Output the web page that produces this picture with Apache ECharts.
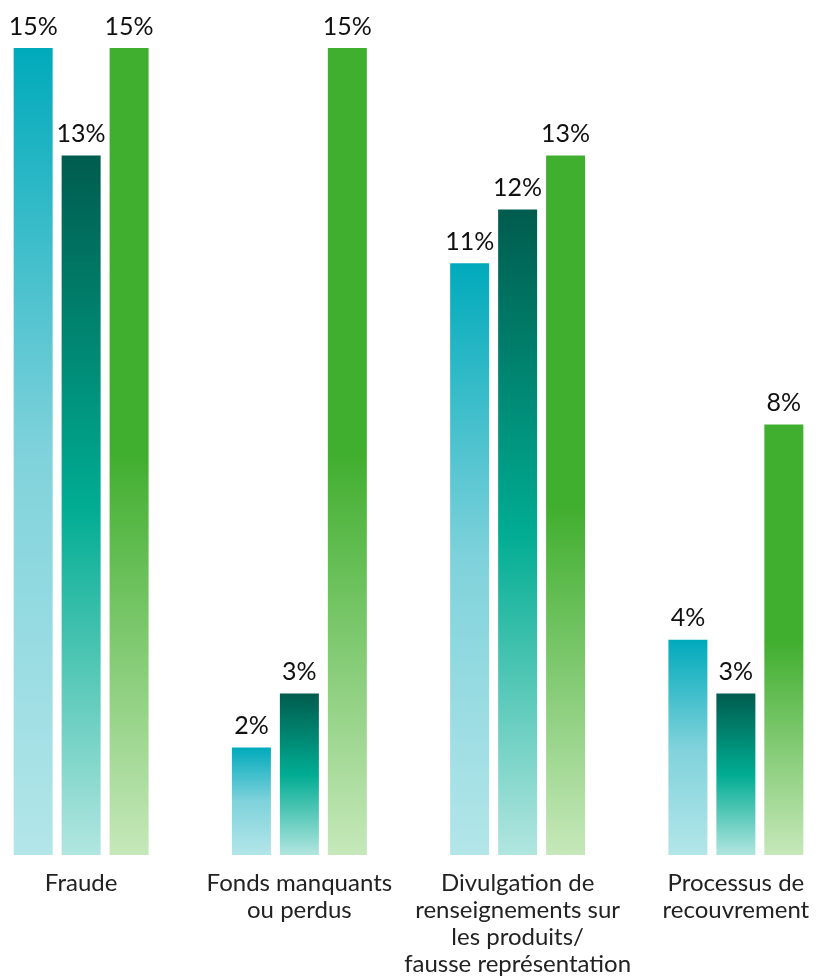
<!DOCTYPE html>
<html>
<head>
<meta charset="utf-8">
<script src="https://cdn.jsdelivr.net/npm/echarts@6/dist/echarts.min.js"></script>
<style>
html,body{margin:0;padding:0;background:#fff;overflow:hidden;width:820px;height:978px;}
#chart{width:873px;height:978px;margin-left:-28px;}
</style>
</head>
<body>
<div id="chart"></div>
<script>
const categories = [
  "Fraude",
  "Fonds manquants\nou perdus",
  "Divulgation de\nrenseignements sur\nles produits/\nfausse représentation",
  "Processus de\nrecouvrement"
];
const series1Values = [15, 2, 11, 4];
const series2Values = [13, 3, 12, 3];
const series3Values = [15, 15, 13, 8];

function grad(stops) {
  return new echarts.graphic.LinearGradient(0, 0, 0, 1, stops.map(s => ({offset: s[0], color: s[1]})));
}
const g1 = grad([[0, '#00AABB'], [0.5, '#7FD2DB'], [1, '#B3E6E9']]);
const g2 = grad([[0, '#005C4E'], [0.5, '#00AC92'], [1, '#B2E6E0']]);
const g3 = grad([[0, '#40AE2E'], [0.5, '#40AE2E'], [1, '#C6E8BA']]);

const labelStyle = {
  show: true,
  position: 'top',
  distance: 9,
  formatter: '{c}%',
  color: '#111',
  fontFamily: 'Lato',
  fontSize: 25
};

function mk(values, color) {
  return {
    type: 'bar',
    data: values,
    barWidth: 39,
    barGap: '23%',
    itemStyle: {color: color},
    label: labelStyle
  };
}

const chart = echarts.init(document.getElementById('chart'), null, {renderer: 'canvas'});
chart.setOption({
  animation: false,
  grid: {left: 0, right: 0, top: 48, bottom: 123, containLabel: false},
  xAxis: {
    type: 'category',
    data: categories,
    axisLine: {show: false},
    axisTick: {show: false},
    axisLabel: {
      interval: 0,
      margin: 15,
      color: '#222',
      fontFamily: 'Lato',
      fontSize: 24,
      lineHeight: 27
    }
  },
  yAxis: {
    type: 'value',
    min: 0,
    max: 15,
    show: false,
    splitLine: {show: false}
  },
  series: [mk(series1Values, g1), mk(series2Values, g2), mk(series3Values, g3)]
});
</script>
</body>
</html>
